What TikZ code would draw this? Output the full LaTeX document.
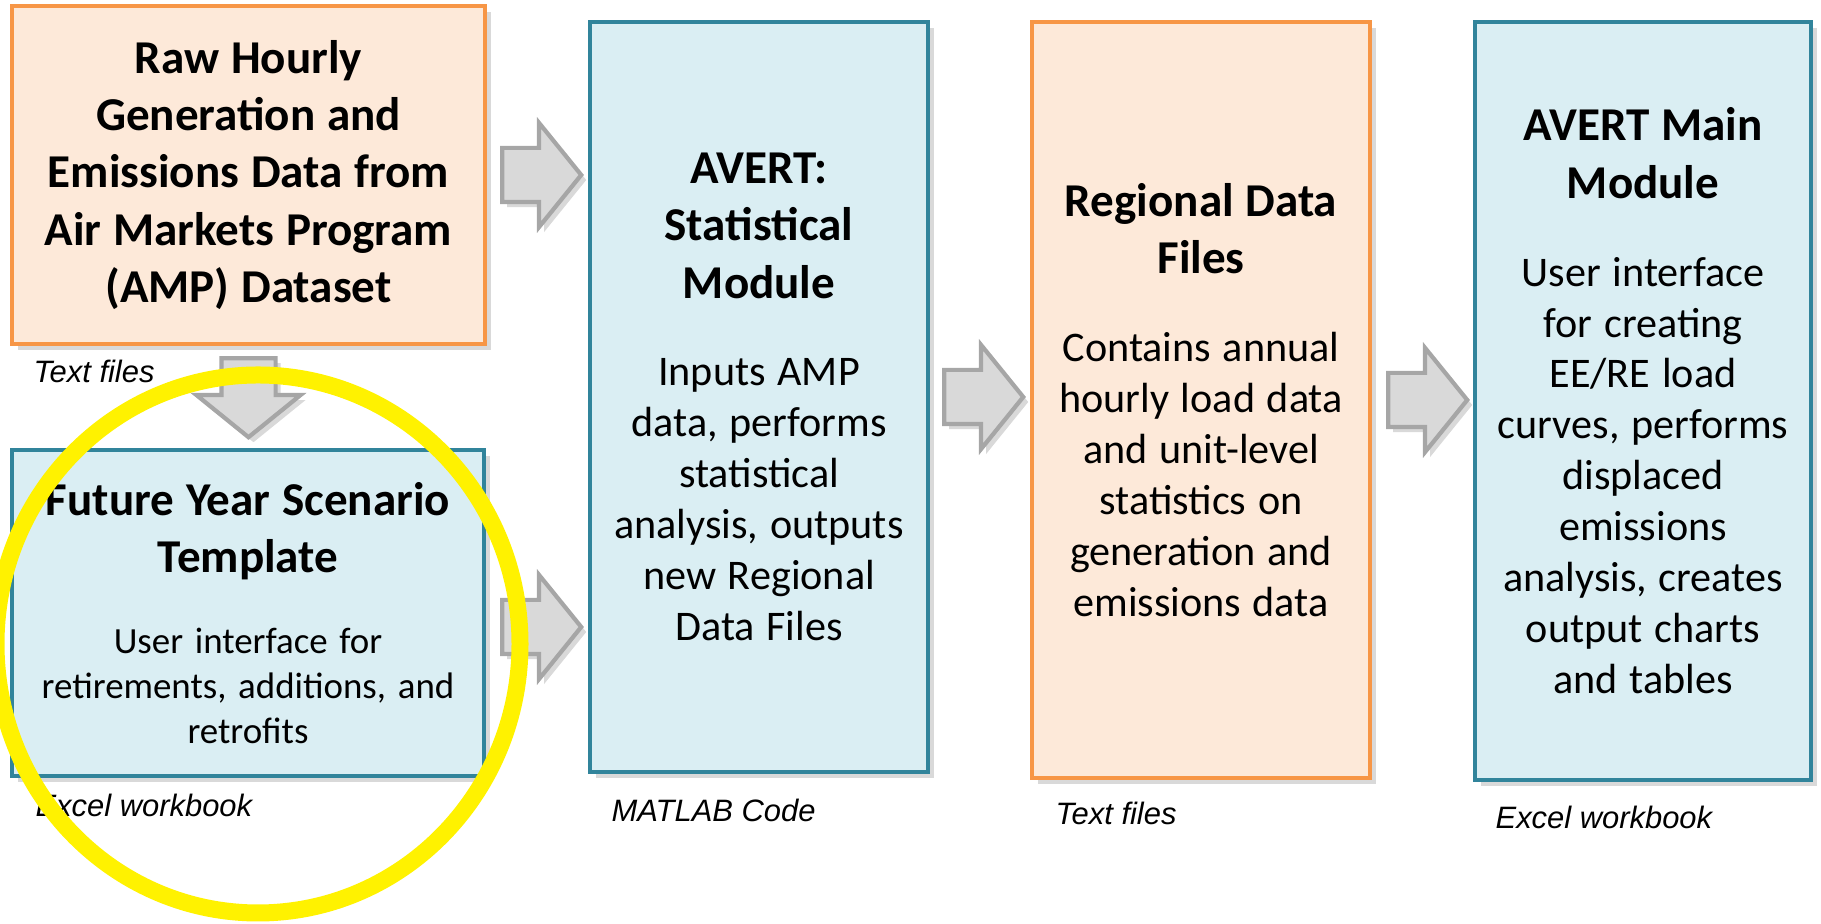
\documentclass[tikz,border=0pt]{standalone}
\usepackage{fontspec}
\setmainfont{Carlito}
\newfontfamily\notefont{Liberation Sans}
\usepackage{xcolor}
\usetikzlibrary{arrows,positioning,calc,shapes.arrows,shadows}

\definecolor{peachfill}{HTML}{FDE9D9}
\definecolor{peachline}{HTML}{F79646}
\definecolor{tealfill}{HTML}{DAEEF3}
\definecolor{tealline}{HTML}{31849B}
\definecolor{flowfill}{HTML}{D9D9D9}
\definecolor{flowline}{HTML}{A6A6A6}

\newcommand{\boxtitle}[1]{{\fontsize{13.4}{16.3}\selectfont\bfseries #1\par}}
\newcommand{\boxbody}[1]{{\fontsize{12}{14.5}\selectfont #1\par}}

\begin{document}
\begin{tikzpicture}[x=0.1mm,y=0.1mm,inner sep=0pt]
		\tikzstyle{module}=[draw, line width=1.2pt, align=center, drop shadow={shadow xshift=0.6mm,shadow yshift=-0.6mm,opacity=0.3}]
		\tikzstyle{datafile}=[module, draw=peachline, fill=peachfill]
		\tikzstyle{program}=[module, draw=tealline, fill=tealfill]
		\tikzstyle{flow}=[single arrow, anchor=tail, draw=flowline, fill=flowfill, line width=1.2pt, inner xsep=0pt, inner ysep=2.5mm, minimum height=7.9mm, single arrow head extend=2.5mm, single arrow tip angle=102, drop shadow={shadow xshift=0.5mm,shadow yshift=-0.5mm,opacity=0.3}]
		\tikzstyle{filetype}=[font=\notefont\itshape\fontsize{8.8}{10}\selectfont, anchor=west]
		
		\useasboundingbox (0,0) rectangle (1821,924);
		
		\node[datafile, text width=47.3mm, minimum height=33.8mm] (raw)      at (248.5,749) {\boxtitle{Raw Hourly\\Generation and\\Emissions Data from\\Air Markets Program\\(AMP) Dataset}};
		\node[program,  text width=47.2mm, minimum height=32.6mm] (future)   at (248,311)   {\boxtitle{Future Year Scenario\\Template}\vspace{10pt}{\fontsize{10.5}{12.8}\selectfont User interface for\\retirements, additions, and\\retrofits\par}};
		\node[program,  text width=33.8mm, minimum height=75mm]   (stat)     at (759,527)   {\boxtitle{AVERT:\\Statistical\\Module}\vspace{10.5pt}\boxbody{Inputs AMP\\data, performs\\statistical\\analysis, outputs\\new Regional\\Data Files}};
		\node[datafile, text width=33.8mm, minimum height=75.6mm] (regional) at (1201,524)  {\boxtitle{Regional Data\\Files}\vspace{10.5pt}\boxbody{Contains annual\\hourly load data\\and unit-level\\statistics on\\generation and\\emissions data}};
		\node[program,  text width=33.6mm, minimum height=75.8mm] (main)     at (1643,523)  {\boxtitle{AVERT Main\\Module}\vspace{10.5pt}\boxbody{User interface\\for creating\\EE/RE load\\curves, performs\\displaced\\emissions\\analysis, creates\\output charts\\and tables}};
		
		\node[filetype] (rawtype)      at ([xshift=2.3mm,yshift=-2.5mm]raw.south west)      {Text files};
		\node[filetype] (futuretype)   at ([xshift=2.5mm,yshift=-2.7mm]future.south west)   {Excel workbook};
		\node[filetype] (stattype)     at ([xshift=2.3mm,yshift=-3.6mm]stat.south west)     {MATLAB Code};
		\node[filetype] (regionaltype) at ([xshift=2.5mm,yshift=-3.3mm]regional.south west) {Text files};
		\node[filetype] (maintype)     at ([xshift=2.2mm,yshift=-3.5mm]main.south west)     {Excel workbook};
		
		\node[flow]             (rawflow)      at ([xshift=1.3mm]raw.east)                      {};
		\node[flow]             (futureflow)   at ([xshift=1.4mm,yshift=-1.4mm]future.east)     {};
		\node[flow]             (statflow)     at ([xshift=1.2mm]stat.east)                     {};
		\node[flow]             (regionalflow) at ([xshift=1.4mm]regional.east)                 {};
		\node[flow, rotate=-90] (downflow)     at ([yshift=-1mm]raw.south)                      {};
		
		\draw[yellow, line width=1.7mm] (258,280) ellipse [x radius=26.2mm, y radius=26.9mm];
		
		\end{tikzpicture}
\end{document}
